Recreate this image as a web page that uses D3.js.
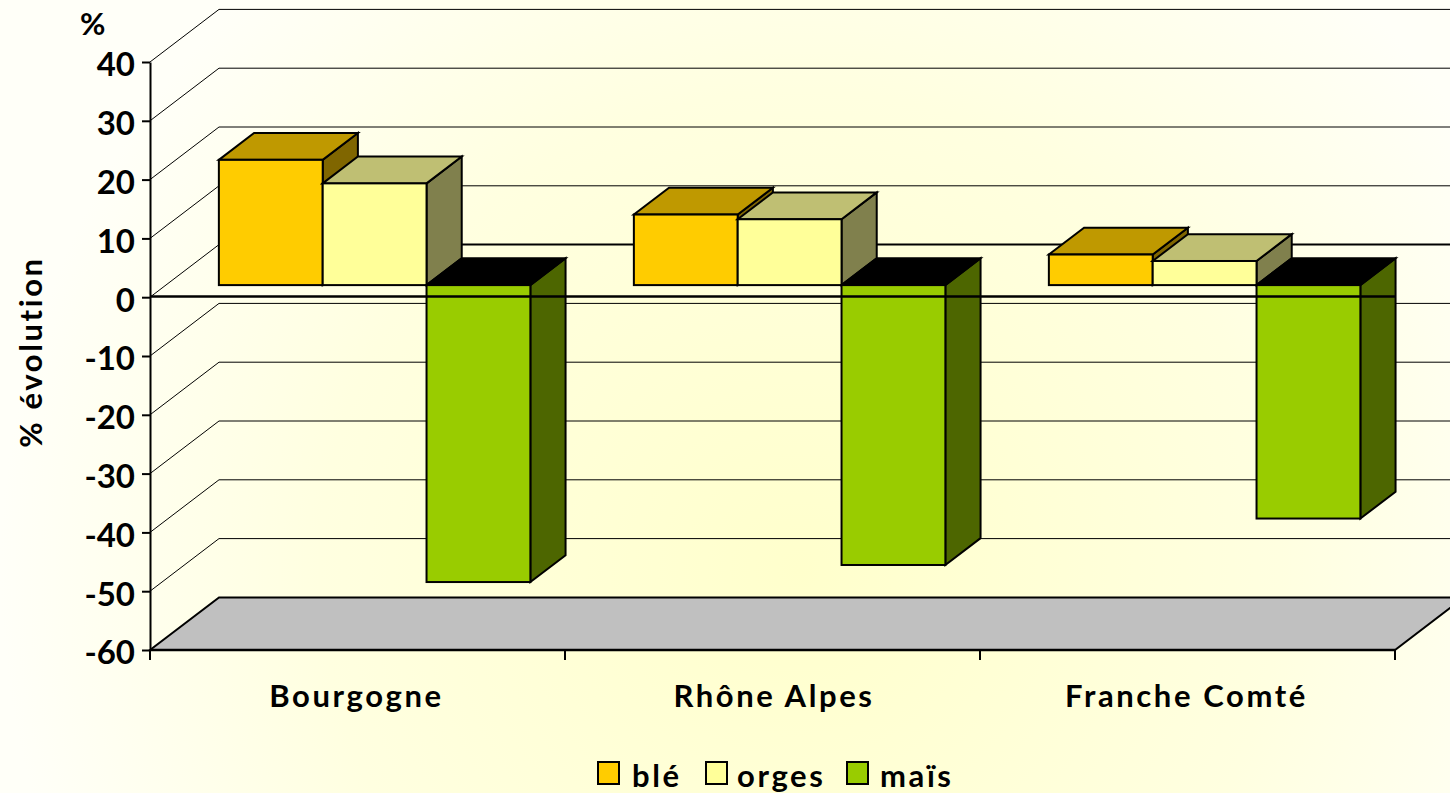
<!DOCTYPE html>
<html>
<head>
<meta charset="utf-8">
<script src="https://cdn.jsdelivr.net/npm/d3@7"></script>
<style>
  html, body { margin: 0; padding: 0; overflow: hidden; background: #fffff6; }
  text { font-family: Lato, "Open Sans", sans-serif; font-weight: 700; fill: #000; }
</style>
</head>
<body>
<script>
// chart values
var regions = ["Bourgogne", "Rhône Alpes", "Franche Comté"];
var seriesNames = ["blé", "orges", "maïs"];
var ble = [21.3, 12, 5.2];
var orges = [17.3, 11.2, 4.1];
var mais = [-50.5, -47.6, -39.7];
var yTicks = [40, 30, 20, 10, 0, -10, -20, -30, -40, -50, -60];

var seriesValues = [ble, orges, mais];
var COLOR = {
  front: ["#ffcc00", "#ffff99", "#99cc00"],
  top: ["#bf9900", "#bfbf73", "#000000"],
  side: ["#806600", "#80804d", "#4d6600"],
  floor: "#c0c0c0"
};

var width = 1450, height = 793;
var plot = { left: 150, right: 1395, top: 62, bottom: 650 };
var depthX = 69, depthY = 52.6; // front of the box to the back wall
var barNear = 0.23, barFar = 0.74; // where the bars stand inside that depth

var svg = d3.select("body").append("svg")
  .attr("width", width)
  .attr("height", height)
  .style("display", "block");

// pale background, yellower toward the middle bottom
var grad = svg.append("defs").append("radialGradient")
  .attr("id", "bg")
  .attr("gradientUnits", "userSpaceOnUse")
  .attr("cx", 800).attr("cy", 570).attr("r", 800);
grad.append("stop").attr("offset", 0).attr("stop-color", "#ffffcc");
grad.append("stop").attr("offset", 0.6).attr("stop-color", "#ffffe0");
grad.append("stop").attr("offset", 1).attr("stop-color", "#fffff8");
svg.append("rect").attr("width", width).attr("height", height).attr("fill", "url(#bg)");

var y = d3.scaleLinear().domain([-60, 40]).range([plot.bottom, plot.top]);
var x = d3.scaleBand().domain(regions).range([plot.left, plot.right]);
var xBar = d3.scaleBand().domain(seriesNames).range([53, 364.5]);

// HELPER FUNCTION: point at a given depth, 0 = front, 1 = back wall
function px(xPos, d) { return xPos + depthX * d; }
function py(yPos, d) { return yPos - depthY * d; }
function poly(points) {
  return points.map(function (p) { return p[0] + "," + p[1]; }).join(" ");
}

// gridlines on the back and the side wall
var grid = svg.append("g").attr("fill", "none").attr("stroke", "#000");
yTicks.filter(function (t) { return t > -60; }).forEach(function (t) {
  grid.append("line")
    .attr("x1", px(plot.left, 1)).attr("x2", px(plot.right, 1))
    .attr("y1", py(y(t), 1)).attr("y2", py(y(t), 1))
    .attr("stroke-width", t === 0 ? 2 : 1);
  grid.append("line")
    .attr("x1", plot.left).attr("x2", px(plot.left, 1))
    .attr("y1", y(t)).attr("y2", py(y(t), 1))
    .attr("stroke-width", 1);
});

// floor
svg.append("polygon")
  .attr("points", poly([
    [plot.left, y(-60)], [px(plot.left, 1), py(y(-60), 1)],
    [px(plot.right, 1), py(y(-60), 1)], [plot.right, y(-60)]
  ]))
  .attr("fill", COLOR.floor)
  .attr("stroke", "#000")
  .attr("stroke-width", 2);

// bars: side, top, then front face
regions.forEach(function (region, r) {
  seriesNames.forEach(function (name, s) {
    var v = seriesValues[s][r];
    var x0 = x(region) + xBar(name);
    var x1 = x0 + xBar.bandwidth();
    var yHigh = y(Math.max(v, 0));
    var yLow = y(Math.min(v, 0));
    var g = svg.append("g").attr("stroke", "#000").attr("stroke-width", 2).attr("stroke-linejoin", "miter");

    g.append("polygon")
      .attr("points", poly([
        [px(x1, barNear), py(yHigh, barNear)], [px(x1, barFar), py(yHigh, barFar)],
        [px(x1, barFar), py(yLow, barFar)], [px(x1, barNear), py(yLow, barNear)]
      ]))
      .attr("fill", COLOR.side[s]);
    g.append("polygon")
      .attr("points", poly([
        [px(x0, barNear), py(yHigh, barNear)], [px(x0, barFar), py(yHigh, barFar)],
        [px(x1, barFar), py(yHigh, barFar)], [px(x1, barNear), py(yHigh, barNear)]
      ]))
      .attr("fill", COLOR.top[s]);
    g.append("rect")
      .attr("x", px(x0, barNear))
      .attr("y", py(yHigh, barNear))
      .attr("width", xBar.bandwidth())
      .attr("height", yLow - yHigh)
      .attr("fill", COLOR.front[s]);
  });
});

// y axis
var yAxis = svg.append("g")
  .attr("transform", "translate(" + plot.left + ",0)")
  .call(d3.axisLeft(y).tickValues(yTicks).tickFormat(d3.format("d")).tickSize(8).tickSizeOuter(0));
yAxis.select(".domain").attr("stroke", "#000").attr("stroke-width", 2);
yAxis.selectAll(".tick line").attr("stroke", "#000").attr("stroke-width", 2);
yAxis.selectAll(".tick text")
  .attr("x", -15)
  .attr("dy", "0.42em")
  .style("font-family", "Lato")
  .style("font-weight", 700)
  .style("font-size", "33px")
  .text(function (d) { return d; });

// zero line runs in front of the bars
svg.append("line")
  .attr("x1", plot.left).attr("x2", plot.right)
  .attr("y1", y(0) - 0.7).attr("y2", y(0) - 0.7)
  .attr("stroke", "#000").attr("stroke-width", 2.5);

// x axis, ticks sit between the regions
svg.append("line")
  .attr("x1", plot.left).attr("x2", plot.right)
  .attr("y1", y(-60)).attr("y2", y(-60))
  .attr("stroke", "#000").attr("stroke-width", 2.5);
svg.selectAll(".x-tick")
  .data(regions.concat([null]))
  .enter()
  .append("line")
  .attr("class", "x-tick")
  .attr("x1", function (d) { return d ? x(d) : plot.right; })
  .attr("x2", function (d) { return d ? x(d) : plot.right; })
  .attr("y1", y(-60)).attr("y2", y(-60) + 10)
  .attr("stroke", "#000").attr("stroke-width", 2);

// region labels, the original type is wider than Lato so it gets some tracking
var labelShift = [-1, 1.5, -1];
svg.selectAll(".x-label")
  .data(regions)
  .enter()
  .append("text")
  .attr("class", "x-label")
  .attr("x", function (d, i) { return x(d) + x.bandwidth() / 2 + labelShift[i]; })
  .attr("y", 707)
  .attr("text-anchor", "middle")
  .style("font-size", "31px")
  .style("letter-spacing", "2.6px")
  .text(function (d) { return d; });

// axis titles
svg.append("text").attr("x", 80).attr("y", 35).style("font-size", "31px").text("%");
svg.append("text")
  .attr("transform", "translate(42,352) rotate(-90)")
  .attr("text-anchor", "middle")
  .style("font-size", "31px")
  .style("letter-spacing", "2.6px")
  .text("% évolution");

// legend
var legendSwatchX = [598, 706, 847];
var legendTextX = [632, 737, 880];
seriesNames.forEach(function (name, s) {
  svg.append("rect")
    .attr("x", legendSwatchX[s]).attr("y", 762)
    .attr("width", 21).attr("height", 22)
    .attr("fill", COLOR.front[s])
    .attr("stroke", "#000").attr("stroke-width", 2);
  svg.append("text")
    .attr("x", legendTextX[s]).attr("y", 787)
    .style("font-size", "31px")
    .style("letter-spacing", "2.6px")
    .text(name);
});
</script>
</body>
</html>
